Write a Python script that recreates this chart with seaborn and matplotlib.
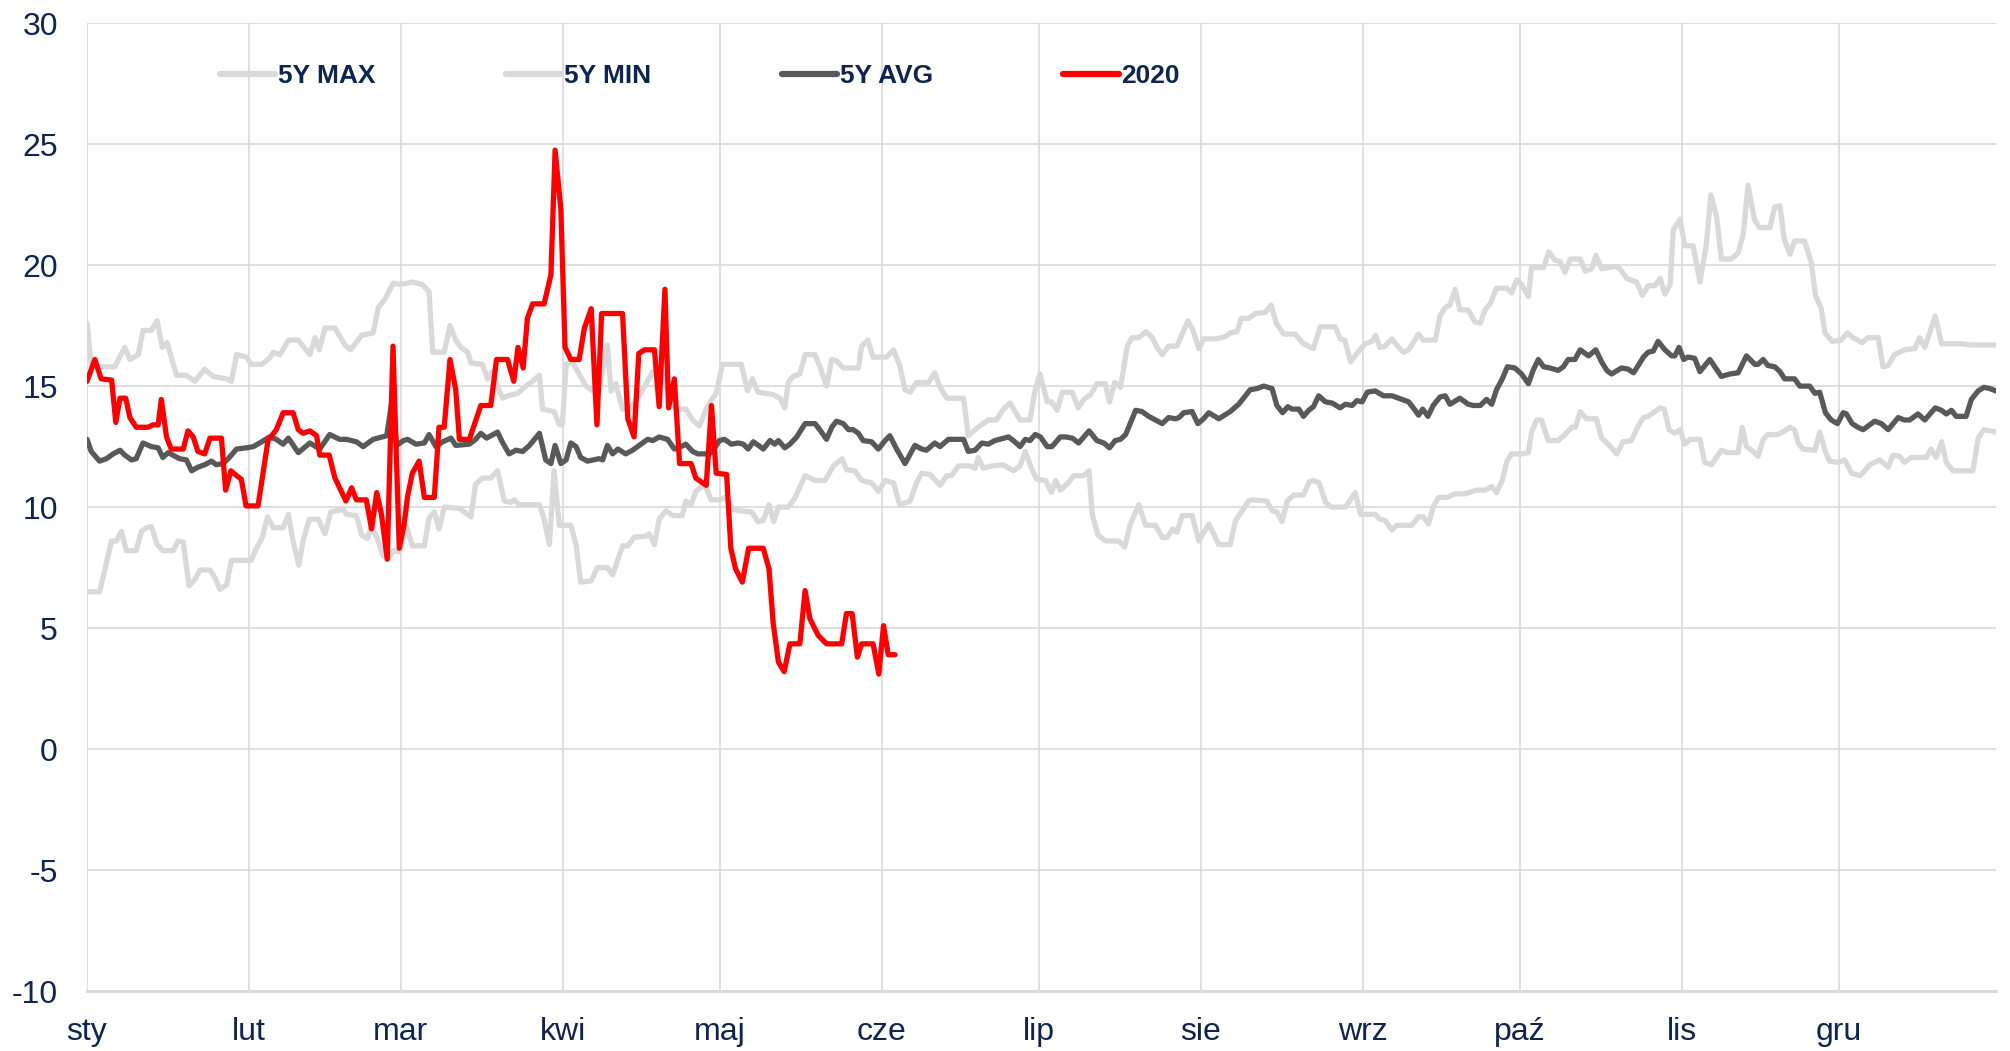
import matplotlib

matplotlib.use("Agg")
import matplotlib.pyplot as plt
import seaborn as sns

# month labels (Polish) and first day of each month (leap year)
MONTHS = ["sty", "lut", "mar", "kwi", "maj", "cze",
          "lip", "sie", "wrz", "paź", "lis", "gru"]
MONTH_START = [0, 31, 60, 91, 121, 152, 182, 213, 244, 274, 305, 335]

# ---------------------------------------------------------------------------
# 5Y MAX
# ---------------------------------------------------------------------------
MAX_DAY = [0, 0.8, 2.4, 5.3, 7.2, 8.2, 9.8, 10.7, 12.3, 13.4, 14.4, 15.3, 17.1, 19.0, 20.6, 22.5,
           24.1, 26.7, 27.6, 28.6, 30.5, 31.4, 33.4, 34.9, 35.6, 36.9, 38.5, 40.4, 42.6, 43.6,
           44.4, 45.5, 47.4, 49.3, 50.4, 52.5, 54.7, 55.7, 57.0, 58.5, 60.0,
           62.2, 64.1, 65.4, 66.1, 68.3, 69.4, 70.5, 71.5, 72.8, 73.4, 75.6, 76.6, 77.5, 78.8,
           79.5, 80.4, 82.3, 83.9, 85.2, 86.5, 87.1, 89.3, 90.3, 90.9, 91.6, 92.8, 95.4, 96.7,
           97.9, 99.5, 100.2, 101.1, 102.4, 103.7, 105.6, 106.9, 108.2, 110.1, 111.3, 112.6,
           114.5, 115.8, 117.1, 118.4, 119.3, 120.3,
           121.5, 125.1, 126.3, 127.2, 128.3, 131.2, 132.5, 133.4, 134.1, 135.0, 136.3, 137.3,
           139.2, 140.3, 141.4, 142.4, 143.3, 144.6, 147.5, 148.1, 149.3, 150.3, 152.9, 154.2,
           155.4, 156.4, 157.4, 158.6, 160.9, 162.1, 163.1, 164.4, 167.6, 168.5, 170.1, 172.3,
           173.9, 175.2, 176.5, 178.4, 180.3, 181.3,
           182.2, 183.6, 184.4, 185.5, 186.5, 188.4, 189.5, 190.6, 191.9, 193.1, 194.7, 195.5,
           196.5, 197.6, 198.9, 199.8, 201.1, 202.5, 203.7, 204.6, 205.6, 206.8, 208.4, 210.5,
           211.4, 212.6, 213.5, 215.8, 217.7, 218.6, 219.9, 220.7, 222.1, 223.4, 225.3, 226.4,
           227.4, 228.8, 231.0, 232.6, 234.5, 235.8, 238.7, 239.6, 240.5, 241.6, 242.8,
           244.4, 245.7, 246.4, 247.2, 248.2, 249.5, 250.8, 251.7, 252.7, 254.6, 255.5, 257.8,
           258.7, 259.7, 260.6, 261.6, 262.5, 264.1, 265.4, 266.4, 267.3, 268.3, 269.5, 271.5,
           272.4, 273.4, 274.3, 275.6, 276.2, 278.5, 279.5, 280.7, 281.6, 282.6, 283.6, 285.5,
           286.5, 287.7, 288.5, 289.6, 292.2, 293.1, 294.4, 296.3, 297.4, 298.5, 299.8, 300.8,
           301.7, 302.7, 303.3, 304.6,
           305.5, 307.1, 308.4, 309.6, 310.5, 311.6, 312.5, 314.4, 315.7, 316.7, 317.6, 318.8,
           319.8, 321.8, 322.7, 323.7, 324.5, 325.6, 326.5, 328.4, 329.7, 330.5, 331.6, 332.3,
           333.7, 335.4, 336.6, 337.7, 339.4, 340.5, 342.5, 343.4, 344.4, 345.6, 347.5, 349.5,
           350.4, 351.4, 353.4, 354.6, 358.4, 360.3, 365]
MAX_VAL = [17.6, 15.9, 15.8, 15.8, 16.6, 16.1, 16.3, 17.3, 17.3, 17.7, 16.6, 16.8, 15.45, 15.45,
           15.2, 15.7, 15.4, 15.3, 15.2, 16.3, 16.2, 15.9, 15.9, 16.15, 16.4, 16.3, 16.9, 16.9,
           16.3, 17.0, 16.5, 17.4, 17.4, 16.7, 16.5, 17.1, 17.2, 18.25, 18.6, 19.25, 19.2,
           19.3, 19.2, 18.9, 16.4, 16.4, 17.5, 16.9, 16.6, 16.4, 15.95, 15.9, 15.3, 15.6, 14.8,
           14.5, 14.6, 14.7, 15.0, 15.2, 15.45, 14.05, 13.95, 13.4, 13.4, 15.9, 16.0, 15.0, 14.8,
           14.8, 16.7, 14.8, 15.1, 14.05, 14.05, 14.6, 15.1, 15.6, 15.45, 14.6, 14.05,
           14.05, 13.6, 13.35, 14.05, 14.4, 14.7,
           15.9, 15.9, 14.8, 15.3, 14.75, 14.65, 14.5, 14.1, 15.15, 15.4, 15.5, 16.3,
           16.3, 15.7, 15.0, 16.1, 16.05, 15.75, 15.75, 16.65, 16.9, 16.2, 16.2, 16.5,
           15.85, 14.85, 14.75, 15.15, 15.15, 15.55, 14.95, 14.5, 14.5, 12.95, 13.25, 13.6,
           13.6, 14.05, 14.3, 13.6, 13.6, 14.85,
           15.5, 14.35, 14.35, 14.0, 14.75, 14.75, 14.1, 14.45, 14.65, 15.1, 15.1, 14.35,
           15.15, 14.95, 16.65, 17.0, 17.0, 17.25, 17.0, 16.6, 16.3, 16.65, 16.65, 17.7,
           17.35, 16.55, 16.95, 16.95, 17.05, 17.2, 17.25, 17.8, 17.8, 18.0, 18.05, 18.35,
           17.6, 17.15, 17.15, 16.75, 16.55, 17.45, 17.45, 16.95, 16.9, 16.0, 16.35,
           16.75, 16.85, 17.1, 16.6, 16.65, 16.95, 16.6, 16.4, 16.5, 17.15, 16.9, 16.9,
           17.9, 18.25, 18.35, 19.0, 18.15, 18.15, 17.65, 17.6, 18.15, 18.4, 19.05, 19.05,
           18.85, 19.4, 19.2, 18.7, 19.9, 19.9, 20.55, 20.2, 20.15, 19.7, 20.25, 20.25,
           19.75, 19.85, 20.4, 19.85, 19.95, 19.85, 19.45, 19.3, 18.75, 19.15, 19.15, 19.45,
           18.8, 19.2, 21.45, 21.9,
           20.8, 20.8, 19.3, 20.8, 22.9, 22.0, 20.25, 20.25, 20.5, 21.3, 23.3, 21.9,
           21.55, 21.55, 22.4, 22.45, 21.1, 20.45, 21.0, 21.0, 20.1, 18.75, 18.2, 17.2,
           16.85, 16.9, 17.2, 17.0, 16.8, 17.0, 17.0, 15.8, 15.85, 16.3, 16.5, 16.55,
           17.0, 16.6, 17.9, 16.75, 16.75, 16.7, 16.7]

# ---------------------------------------------------------------------------
# 5Y MIN
# ---------------------------------------------------------------------------
MIN_DAY = [0, 2.4, 4.7, 5.6, 6.6, 7.5, 9.4, 10.4, 11.4, 12.3, 13.4, 14.5, 16.5, 17.4, 18.4, 19.5,
           20.6, 21.6, 23.5, 24.4, 25.4, 26.7, 27.6, 31.4, 32.4, 33.5, 34.5, 35.6, 37.5, 38.5,
           39.4, 40.5, 41.3, 42.5, 44.2, 45.5, 46.6, 47.7, 49.0, 49.6, 51.5, 52.5, 53.6, 54.4,
           55.5, 56.6, 57.6, 58.6, 59.7, 61.0, 62.2, 64.5, 65.4, 66.4, 67.3, 68.3, 71.2, 73.4,
           74.3, 75.6, 77.2, 78.5, 79.8, 81.0, 81.7, 82.6, 86.5, 87.4, 88.4, 89.3, 90.3, 92.5,
           93.5, 94.4, 96.4, 97.6, 99.5, 100.5, 102.4, 103.4, 104.6, 106.9, 107.5, 108.5, 109.4,
           110.7, 112.0, 113.8, 114.5, 115.5, 116.4, 117.5, 118.4, 119.3, 120.9, 122.0, 123.6,
           124.8, 127.1, 128.3, 129.3, 130.4, 131.3, 132.2, 134.1, 135.3, 137.3, 139.2, 141.1,
           142.7, 144.4, 145.2, 146.8, 148.1, 150.0, 151.3, 152.6, 154.2, 155.4, 157.4, 158.6,
           159.6, 161.2, 163.1, 164.4, 165.3, 166.6, 168.8, 169.8, 170.4, 171.4, 173.0, 175.2,
           177.1, 178.4, 179.4, 180.6, 181.6, 183.3, 184.4, 185.2, 186.1, 187.4, 188.7, 190.6,
           191.6, 192.2, 193.3, 194.7, 197.3, 198.4, 199.5, 201.1, 202.4, 204.3, 205.6, 206.5,
           207.6, 208.4, 209.4, 211.3, 212.6, 214.5, 216.4, 218.6, 219.6, 220.9, 222.1, 222.8,
           225.6, 226.6, 227.5, 228.5, 229.5, 230.7, 232.6, 233.7, 234.5, 235.6, 236.8, 237.9,
           240.6, 242.5, 243.5, 246.3, 247.2, 248.2, 249.5, 250.4, 253.3, 254.6, 255.5, 256.5,
           257.4, 258.4, 260.0, 261.6, 263.5, 265.7, 267.3, 268.6, 269.5, 270.6, 271.5, 272.4,
           274.3, 275.6, 276.2, 277.2, 278.1, 279.4, 281.3, 282.6, 283.9, 284.6, 285.5, 286.7,
           288.6, 289.6, 290.9, 292.5, 293.7, 295.3, 296.6, 297.6, 298.5, 299.8, 300.8, 301.6,
           302.5, 303.6, 304.6, 305.5, 306.5, 308.4, 309.3, 310.6, 312.5, 313.8, 315.7, 316.5,
           317.3, 318.6, 319.5, 320.5, 321.4, 323.3, 324.6, 325.6, 326.5, 327.2, 328.1, 330.4,
           331.3, 332.3, 333.2, 334.8, 336.1, 337.4, 339.0, 339.9, 340.9, 342.8, 344.4, 345.3,
           346.6, 347.5, 348.8, 351.7, 352.6, 353.6, 354.6, 355.5, 356.8, 360.6, 361.6, 362.7,
           365]
MIN_VAL = [6.5, 6.5, 8.6, 8.6, 9.0, 8.2, 8.2, 9.0, 9.15, 9.2, 8.45, 8.2, 8.2, 8.6, 8.55, 6.75,
           7.0, 7.4, 7.4, 7.1, 6.6, 6.8, 7.8, 7.8, 8.3, 8.75, 9.6, 9.15, 9.15, 9.7,
           8.6, 7.6, 8.6, 9.5, 9.5, 8.9, 9.8, 9.85, 9.9, 9.7, 9.65, 8.85, 8.7, 9.2,
           8.7, 8.0, 7.85, 8.2, 8.15, 9.25, 8.4, 8.4, 9.55, 9.8, 9.1, 10.0, 9.95, 9.6,
           10.95, 11.2, 11.2, 11.5, 10.25, 10.2, 10.3, 10.1, 10.1, 9.5, 8.45, 11.5, 9.25, 9.25,
           8.45, 6.9, 6.95, 7.5, 7.5, 7.2, 8.4, 8.4, 8.75, 8.8, 8.9, 8.45, 9.5,
           9.85, 9.65, 9.65, 10.25, 10.1, 10.65, 10.85, 10.8, 10.3, 10.3, 10.4, 9.9,
           9.85, 9.8, 9.4, 9.45, 10.1, 9.4, 10.0, 10.0, 10.35, 11.3, 11.1, 11.1,
           11.7, 12.0, 11.55, 11.5, 11.1, 11.0, 10.65, 11.1, 11.0, 10.1, 10.25, 11.0,
           11.4, 11.35, 10.9, 11.3, 11.3, 11.7, 11.7, 11.6, 12.05, 11.6, 11.7, 11.75,
           11.5, 11.7, 12.3, 11.6, 11.15, 11.1, 10.6, 11.1, 10.7, 10.95, 11.3, 11.3,
           11.5, 9.7, 8.85, 8.6, 8.6, 8.35, 9.3, 10.1, 9.25, 9.25, 8.75, 8.75,
           9.1, 8.95, 9.65, 9.65, 8.6, 9.3, 8.45, 8.45, 9.45, 9.85, 10.25, 10.3,
           10.25, 9.85, 9.8, 9.4, 10.25, 10.5, 10.5, 11.05, 11.1, 11.0, 10.2, 10.0,
           10.0, 10.6, 9.7, 9.7, 9.5, 9.45, 9.05, 9.25, 9.25, 9.6, 9.6, 9.3,
           10.0, 10.4, 10.4, 10.55, 10.55, 10.7, 10.7, 10.85, 10.6, 11.1, 11.9, 12.2,
           12.2, 12.25, 13.1, 13.6, 13.6, 12.75, 12.75, 13.0, 13.3, 13.3, 13.95, 13.65,
           13.65, 12.85, 12.6, 12.2, 12.7, 12.75, 13.35, 13.7, 13.75, 13.95, 14.1, 14.05,
           13.2, 13.05, 13.2, 12.6, 12.8, 12.8, 11.85, 11.75, 12.35, 12.25, 12.25, 13.3,
           12.5, 12.3, 12.1, 12.8, 13.0, 13.0, 13.15, 13.3, 13.2, 12.65, 12.4, 12.35,
           13.1, 12.35, 11.9, 11.85, 11.95, 11.4, 11.3, 11.5, 11.75, 11.95, 11.65, 12.15,
           12.1, 11.85, 12.05, 12.05, 12.4, 12.05, 12.7, 11.85, 11.5, 11.5, 12.85, 13.2,
           13.1]

# ---------------------------------------------------------------------------
# 5Y AVG
# ---------------------------------------------------------------------------
AVG_DAY = [0, 0.8, 2.4, 3.7, 5.0, 6.3, 7.2, 8.5, 9.4, 10.7, 12.3, 13.6, 14.5, 15.5, 17.7, 19.0,
           20.0, 21.2, 22.5, 23.8, 24.7, 26.0, 27.0, 28.6, 30.5, 31.8, 33.0, 34.9, 36.2, 37.5,
           38.5, 40.4, 42.6, 44.5, 46.4, 48.3, 49.6, 51.5, 52.8, 54.7, 57.3, 58.3, 59.2, 60.5,
           61.3, 62.9, 64.5, 65.4, 66.7, 68.0, 69.6, 70.5, 73.1, 74.3, 75.3, 76.4, 78.5, 79.5,
           80.7, 82.0, 83.3, 84.6, 86.5, 87.7, 88.7, 89.5, 90.6, 91.6, 92.5, 93.5, 94.4, 95.7,
           97.9, 98.6, 99.5, 100.5, 101.5, 103.0, 104.3, 105.6, 107.2, 108.2, 109.4, 111.0,
           112.3, 113.6, 114.5, 115.8, 116.8, 119.0, 119.9, 120.9, 121.9, 123.2, 124.5, 125.5,
           126.4, 127.4, 128.7, 129.3, 130.6, 131.5, 132.2, 133.4, 134.4, 135.7, 137.3, 139.2,
           140.1, 141.4, 142.4, 143.3, 144.6, 145.6, 146.5, 147.5, 148.4, 150.0, 151.3, 152.6,
           153.5, 154.8, 156.4, 158.3, 159.6, 160.5, 162.1, 163.1, 164.7, 167.6, 168.5, 169.8,
           171.1, 172.3, 173.6, 176.2, 177.4, 178.4, 179.4, 180.3, 181.3, 182.3, 183.6, 184.5,
           186.1, 187.1, 188.4, 189.6, 191.6, 193.1, 194.4, 195.5, 196.6, 197.6, 198.6, 200.5,
           201.7, 203.0, 205.6, 206.8, 208.1, 208.8, 209.7, 211.3, 212.4, 213.5, 214.5, 216.4,
           218.6, 220.2, 222.4, 223.7, 225.0, 226.6, 227.5, 228.6, 229.6, 230.4, 231.7, 232.6,
           233.6, 234.5, 235.5, 236.8, 238.1, 239.6, 240.6, 241.9, 242.8, 243.8, 244.8, 246.3,
           247.9, 249.5, 250.8, 252.7, 253.6, 254.6, 255.4, 256.4, 257.4, 258.7, 259.7, 260.6,
           262.5, 264.1, 265.1, 266.4, 267.6, 268.6, 269.5, 270.5, 271.6, 273.0, 274.3, 275.6,
           276.5, 277.5, 278.5, 279.7, 281.3, 282.3, 283.2, 284.5, 285.5, 287.1, 288.5, 289.6,
           290.6, 291.5, 293.4, 294.7, 295.7, 296.6, 297.6, 298.5, 299.5, 300.4, 301.7, 303.0,
           303.6, 304.4, 305.3, 306.1, 307.4, 308.4, 310.3, 312.5, 314.1, 315.7, 317.3, 318.9,
           319.5, 320.5, 321.4, 322.7, 323.7, 324.6, 326.5, 327.5, 329.4, 330.4, 331.3, 332.4,
           333.5, 334.7, 335.8, 336.4, 337.5, 338.6, 339.6, 341.8, 343.1, 344.4, 346.3, 347.5,
           348.5, 350.1, 351.4, 353.4, 354.6, 355.5, 356.5, 357.4, 359.3, 360.3, 361.6, 362.7,
           363.8, 365]
AVG_VAL = [12.8, 12.3, 11.9, 12.0, 12.2, 12.35, 12.15, 11.95, 12.0, 12.65, 12.5, 12.45, 12.05,
           12.25, 12.0, 11.95, 11.5, 11.65, 11.75, 11.9, 11.75, 11.8, 12.0, 12.4, 12.45, 12.5,
           12.65, 12.9, 12.8, 12.6, 12.85, 12.25, 12.65, 12.4, 13.0, 12.8, 12.8, 12.7, 12.5,
           12.8, 12.95, 14.4, 12.55, 12.75, 12.8, 12.6, 12.65, 13.0, 12.5, 12.7, 12.85, 12.55,
           12.6, 12.8, 13.05, 12.85, 13.1, 12.65, 12.2, 12.35, 12.3, 12.55, 13.05, 11.95, 11.8,
           12.55, 11.8, 11.95, 12.65, 12.5, 12.05, 11.9, 12.0, 11.95, 12.55, 12.2, 12.4, 12.2,
           12.35, 12.55, 12.8, 12.75, 12.9, 12.8, 12.4, 12.5, 12.6, 12.3, 12.2, 12.2, 12.4,
           12.75, 12.8, 12.6, 12.65, 12.6, 12.4, 12.7, 12.5, 12.4, 12.75, 12.6, 12.75, 12.45,
           12.6, 12.9, 13.45, 13.45, 13.2, 12.8, 13.3, 13.55, 13.45, 13.2, 13.2, 13.05, 12.75,
           12.7, 12.4, 12.75, 12.95, 12.4, 11.8, 12.55, 12.4, 12.35, 12.65, 12.5, 12.8, 12.8,
           12.3, 12.35, 12.65, 12.6, 12.75, 12.9, 12.7, 12.5, 12.8, 12.75, 13.0, 12.9, 12.5,
           12.5, 12.9, 12.9, 12.85, 12.65, 13.15, 12.75, 12.65, 12.45, 12.75, 12.8, 13.0, 14.0,
           13.95, 13.75, 13.45, 13.7, 13.65, 13.7, 13.9, 13.95, 13.45, 13.65, 13.9, 13.65,
           13.95, 14.25, 14.85, 14.9, 15.0, 14.9, 14.2, 13.9, 14.15, 14.05, 14.05, 13.75,
           14.0, 14.15, 14.6, 14.35, 14.3, 14.1, 14.25, 14.2, 14.4, 14.35, 14.75, 14.8,
           14.6, 14.6, 14.5, 14.35, 14.1, 13.8, 14.05, 13.75, 14.2, 14.55, 14.6, 14.25,
           14.5, 14.25, 14.2, 14.2, 14.45, 14.25, 14.85, 15.25, 15.8, 15.75, 15.5, 15.1,
           15.65, 16.1, 15.8, 15.75, 15.65, 15.8, 16.1, 16.1, 16.5, 16.25, 16.5, 16.0,
           15.65, 15.5, 15.75, 15.7, 15.55, 15.85, 16.2, 16.4, 16.45, 16.85, 16.5, 16.25,
           16.25, 16.6, 16.1, 16.2, 16.15, 15.6, 16.1, 15.4, 15.5, 15.55, 16.25, 15.9,
           15.9, 16.1, 15.85, 15.8, 15.6, 15.3, 15.3, 15.0, 15.0, 14.7, 14.75, 13.9,
           13.6, 13.45, 13.9, 13.85, 13.45, 13.3, 13.2, 13.55, 13.45, 13.2, 13.7, 13.6,
           13.6, 13.85, 13.6, 14.1, 14.0, 13.85, 14.0, 13.75, 13.75, 14.45, 14.8, 14.95,
           14.9, 14.8]

# ---------------------------------------------------------------------------
# 2020
# ---------------------------------------------------------------------------
Y2020_DAY = [0, 1.5, 2.7, 4.7, 5.5, 6.3, 7.4, 8.2, 9.4, 11.7, 12.6, 13.6, 14.2, 15.2, 16.1, 18.4,
             19.3, 20.3, 21.2, 22.5, 23.5, 25.7, 26.5, 27.5, 28.6, 29.5, 30.4, 32.7, 34.6, 36.2,
             37.5, 39.4, 40.4, 41.3, 42.6, 43.9, 44.5, 46.3, 47.4, 48.3, 49.5, 50.6, 51.5, 53.4,
             54.4, 55.4, 56.3, 57.4, 58.5, 59.7, 60.6, 61.3, 62.2, 63.5, 64.5, 66.4, 67.3, 68.3,
             69.4, 70.5, 71.2, 73.1, 75.3, 77.2, 78.3, 80.4, 81.6, 82.4, 83.4, 84.2, 85.2, 87.4,
             88.7, 89.5, 90.6, 91.4, 92.5, 94.1, 95.1, 96.4, 97.5, 98.4, 102.4, 103.4, 104.6,
             105.5, 106.6, 108.5, 109.4, 110.5, 111.2, 112.3, 113.3, 115.5, 116.4, 118.4, 119.4,
             120.3, 122.3, 123.1, 124.0, 125.3, 126.5, 129.3, 130.4, 131.2, 132.2, 133.3, 134.4,
             136.3, 137.3, 138.2, 139.8, 141.4, 144.3, 145.2, 146.3, 147.3, 148.1, 150.3, 151.4,
             152.3, 153.2, 154.5]
Y2020_VAL = [15.2, 16.1, 15.3, 15.25, 13.5, 14.5, 14.5, 13.7, 13.3, 13.3, 13.4, 13.4, 14.45, 12.9,
             12.4, 12.4, 13.15, 12.9, 12.3, 12.2, 12.85, 12.85, 10.7, 11.5, 11.3, 11.15, 10.05,
             10.05, 12.75, 13.2, 13.9, 13.9, 13.2, 13.05, 13.15, 12.95, 12.15, 12.15, 11.2, 10.8,
             10.25, 10.8, 10.3, 10.3, 9.1, 10.6, 9.7, 7.85, 16.65, 8.3, 9.25, 10.45, 11.4, 11.9,
             10.4, 10.4, 13.3, 13.3, 16.1, 14.85, 12.8, 12.8, 14.2, 14.2, 16.1, 16.1, 15.2, 16.6,
             15.75, 17.8, 18.4, 18.4, 19.6, 24.75, 22.3, 16.6, 16.1, 16.1, 17.4, 18.2, 13.4, 18.0,
             18.0, 13.65, 12.9, 16.35, 16.5, 16.5, 14.15, 19.0, 14.1, 15.3, 11.8, 11.8, 11.2,
             10.9, 14.2, 11.4, 11.35, 8.3, 7.45, 6.9, 8.3, 8.3, 7.45, 5.2, 3.6, 3.2, 4.35, 4.35,
             6.55, 5.4, 4.7, 4.35, 4.35, 5.6, 5.6, 3.8, 4.35, 4.35, 3.1, 5.1, 3.9, 3.9]

SERIES = [
    ("5Y MAX", MAX_DAY, MAX_VAL, "#d9d9d9"),
    ("5Y MIN", MIN_DAY, MIN_VAL, "#d9d9d9"),
    ("5Y AVG", AVG_DAY, AVG_VAL, "#595959"),
    ("2020", Y2020_DAY, Y2020_VAL, "#ff0000"),
]

TEXT = "#0e2452"
GRID = "#d9d9d9"

sns.set_theme(style="white")
plt.rcParams["font.family"] = ["Liberation Sans", "DejaVu Sans"]
plt.rcParams["axes.unicode_minus"] = False

fig = plt.figure(figsize=(20.10, 10.51), dpi=100)
ax = fig.add_axes([0.0433, 0.057, 0.9497, 0.921])

for name, days, vals, color in SERIES:
    sns.lineplot(x=days, y=vals, ax=ax, color=color, linewidth=3.8,
                 label=name, estimator=None, sort=False)

ax.set_xlim(0, 365)
ax.set_ylim(-10, 30)
ax.set_yticks(range(-10, 31, 5))
ax.set_xticks(MONTH_START)
ax.set_xticklabels(MONTHS)
ax.set_xlabel("")
ax.set_ylabel("")

ax.grid(True, color=GRID, linewidth=1.2)
ax.set_axisbelow(True)
for side in ("top", "right", "left"):
    ax.spines[side].set_visible(False)
ax.spines["bottom"].set_color(GRID)
ax.spines["bottom"].set_linewidth(2.0)

ax.tick_params(axis="y", length=0, pad=21, labelsize=23, labelcolor=TEXT)
ax.tick_params(axis="x", length=7, width=1.2, color=GRID, pad=12,
               labelsize=23, labelcolor=TEXT)

leg = ax.legend(ncol=4, loc="center left", bbox_to_anchor=(0.0695, 0.945),
                frameon=False, borderpad=0, borderaxespad=0,
                handlelength=2.1, handletextpad=0.1, columnspacing=4.95,
                prop={"weight": "bold", "size": 19})
for text in leg.get_texts():
    text.set_color(TEXT)
for line in leg.get_lines():
    line.set_linewidth(4.5)
    line.set_solid_capstyle("round")

fig.savefig("out.png", dpi=100)
plt.close(fig)
